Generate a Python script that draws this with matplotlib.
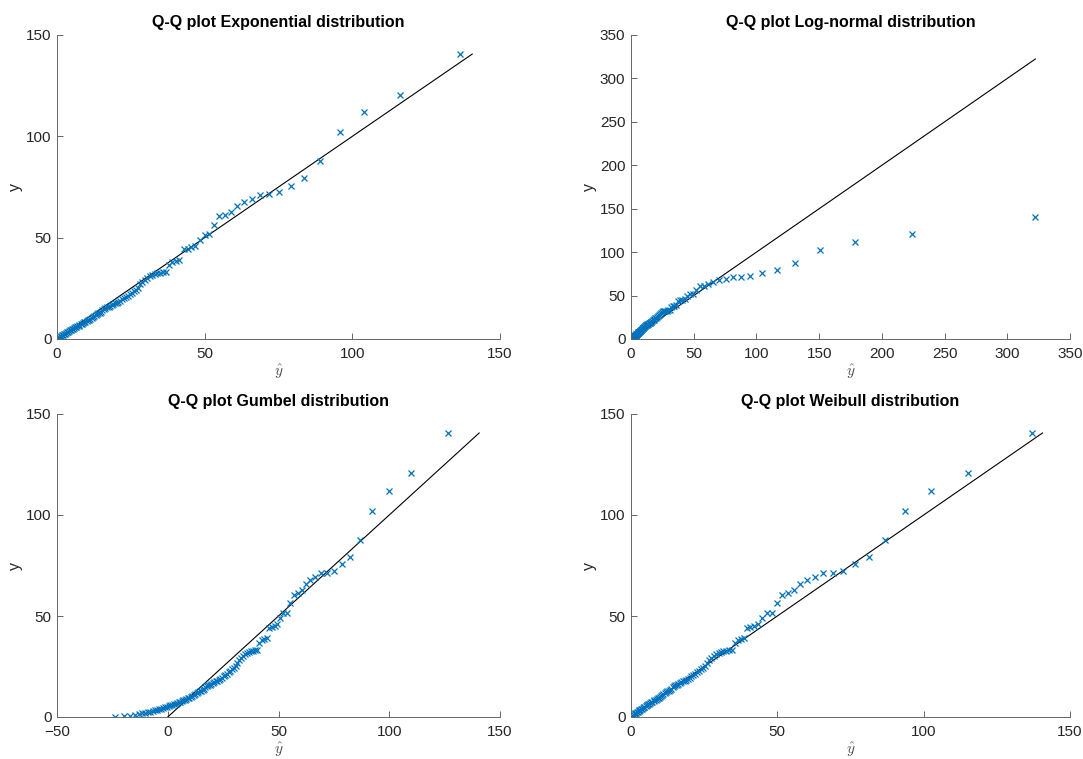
import matplotlib
matplotlib.use("Agg")
import matplotlib.pyplot as plt
from matplotlib.ticker import MultipleLocator

plt.rcParams['font.family'] = ['Liberation Sans', 'DejaVu Sans']
plt.rcParams['mathtext.fontset'] = 'cm'

# observed values, sorted from largest to smallest
y_obs = [140.6, 120.6, 112.0, 102.2, 87.7, 79.4, 75.7, 72.4, 71.3, 71.1,
         69.3, 67.7, 65.6, 62.8, 61.3, 60.5, 56.2, 51.7, 51.3, 49.0,
         46.0, 45.2, 44.4, 44.2, 38.9, 38.5, 38.2, 36.6, 33.3, 33.0,
         32.7, 32.5, 32.3, 31.8, 31.0, 30.2, 29.1, 28.0, 26.9, 25.2,
         24.4, 23.8, 22.9, 22.1, 21.4, 20.7, 20.1, 19.5, 18.9, 18.4,
         18.0, 17.6, 17.2, 16.8, 16.4, 16.0, 15.6, 15.3, 14.9, 14.1,
         13.4, 13.0, 12.7, 12.4, 11.9, 11.3, 10.8, 10.4, 10.0, 9.6,
         9.2, 8.9, 8.6, 8.3, 7.9, 7.6, 7.3, 7.0, 6.6, 6.3,
         6.0, 5.7, 5.4, 5.1, 4.8, 4.5, 4.2, 3.9, 3.6, 3.3,
         3.0, 2.7, 2.4, 2.1, 1.8, 1.4, 1.0, 0.5, 0.3, 0.1]

# fitted quantiles for each distribution, same order as y_obs
yhat_exp = [136.4, 116.0, 104.0, 95.8, 89.2, 83.7, 79.2, 75.2, 71.7, 68.9,
            66.0, 63.4, 61.1, 59.0, 56.8, 55.0, 53.2, 51.3, 50.0, 48.3,
            46.8, 45.4, 44.2, 43.0, 41.3, 40.2, 39.0, 38.0, 36.9, 35.9,
            35.0, 34.0, 33.1, 32.2, 31.4, 30.5, 29.7, 28.9, 28.1, 27.4,
            26.7, 26.0, 25.3, 24.6, 23.9, 23.3, 22.6, 22.0, 21.4, 20.8,
            20.2, 19.7, 19.1, 18.5, 18.0, 17.5, 16.9, 16.4, 15.9, 15.4,
            14.9, 14.4, 14.0, 13.5, 13.1, 12.6, 12.1, 11.7, 11.3, 10.9,
            10.4, 10.0, 9.6, 9.2, 8.8, 8.4, 8.0, 7.6, 7.3, 6.9,
            6.5, 6.2, 5.8, 5.4, 5.1, 4.8, 4.4, 4.1, 3.7, 3.4,
            3.1, 2.8, 2.4, 2.1, 1.8, 1.5, 1.2, 0.9, 0.6, 0.3]

yhat_lognorm = [322.4, 224.4, 178.5, 150.5, 130.9, 116.2, 104.6, 95.2, 87.7, 81.1,
                75.5, 70.3, 65.6, 61.7, 58.2, 55.0, 52.2, 49.5, 47.2, 45.0,
                42.9, 41.0, 39.2, 37.6, 36.0, 34.5, 33.2, 31.9, 30.7, 29.5,
                28.5, 27.4, 26.4, 25.5, 24.6, 23.7, 22.9, 22.1, 21.4, 20.7,
                19.9, 19.3, 18.6, 18.0, 17.4, 16.9, 16.3, 15.8, 15.3, 14.8,
                14.3, 13.8, 13.4, 12.9, 12.5, 12.1, 11.7, 11.3, 11.0, 10.6,
                10.2, 9.9, 9.6, 9.2, 8.9, 8.6, 8.3, 8.0, 7.7, 7.4,
                7.2, 6.9, 6.6, 6.4, 6.1, 5.9, 5.6, 5.4, 5.2, 4.9,
                4.7, 4.5, 4.3, 4.1, 3.8, 3.6, 3.4, 3.2, 3.0, 2.8,
                2.6, 2.4, 2.2, 2.0, 1.8, 1.6, 1.4, 1.2, 0.9, 0.7]

yhat_gumbel = [126.6, 109.6, 99.7, 92.3, 86.8, 82.1, 78.5, 75.0, 71.7, 69.2,
               66.7, 64.3, 62.4, 60.4, 58.6, 56.9, 55.2, 53.7, 52.2, 50.8,
               49.5, 48.2, 47.0, 45.7, 44.6, 43.5, 42.4, 41.4, 40.3, 39.4,
               38.4, 37.4, 36.5, 35.6, 34.7, 33.9, 33.0, 32.2, 31.4, 30.6,
               29.8, 29.0, 28.2, 27.5, 26.7, 26.0, 25.3, 24.6, 23.8, 23.1,
               22.4, 21.7, 21.1, 20.4, 19.7, 19.0, 18.3, 17.7, 17.0, 16.3,
               15.7, 15.0, 14.4, 13.7, 13.0, 12.4, 11.7, 11.1, 10.4, 9.7,
               9.0, 8.4, 7.7, 7.0, 6.3, 5.6, 4.9, 4.2, 3.5, 2.8,
               2.0, 1.2, 0.4, -0.4, -1.2, -2.0, -2.9, -3.8, -4.7, -5.7,
               -6.7, -7.8, -9.0, -10.3, -11.6, -13.2, -14.9, -17.0, -19.7, -23.7]

yhat_weibull = [137.0, 115.3, 102.6, 93.7, 86.7, 81.2, 76.4, 72.5, 68.9, 65.7,
                62.8, 60.2, 57.9, 55.6, 53.6, 51.7, 49.9, 48.1, 46.5, 44.9,
                43.5, 42.1, 40.8, 39.5, 38.7, 37.6, 36.5, 35.4, 34.4, 33.4,
                32.5, 31.6, 30.7, 29.9, 29.0, 28.2, 27.4, 26.6, 25.9, 25.2,
                24.5, 23.8, 23.1, 22.5, 21.8, 21.2, 20.6, 20.0, 19.4, 18.9,
                18.3, 17.8, 17.2, 16.7, 16.2, 15.7, 15.2, 14.7, 14.2, 13.8,
                13.3, 12.9, 12.4, 12.0, 11.6, 11.1, 10.7, 10.3, 9.9, 9.6,
                9.1, 8.8, 8.4, 8.0, 7.7, 7.3, 7.0, 6.6, 6.3, 5.9,
                5.6, 5.3, 5.0, 4.6, 4.3, 4.0, 3.7, 3.4, 3.1, 2.8,
                2.6, 2.3, 2.0, 1.7, 1.5, 1.2, 0.9, 0.7, 0.5, 0.2]

titles = ['Q-Q plot Exponential distribution', 'Q-Q plot Log-normal distribution',
          'Q-Q plot Gumbel distribution', 'Q-Q plot Weibull distribution']
fits = [yhat_exp, yhat_lognorm, yhat_gumbel, yhat_weibull]
xlims = [(0, 150), (0, 350), (-50, 150), (0, 150)]
ylims = [(0, 150), (0, 350), (0, 150), (0, 150)]

BLUE = (0, 0.447, 0.741)
AX_COL = (0.15, 0.15, 0.15)

W, H = 1083, 759
# axes boxes in pixels: left, top, right, bottom
boxes = [(57, 35, 500, 339), (631, 35, 1070, 339),
         (57, 414, 500, 717), (631, 414, 1070, 717)]


def qqPanel(fig, box, yhat, y, title, xlim, ylim):
    l, t, r, b = box
    ax = fig.add_axes([l / W, 1 - b / H, (r - l) / W, (b - t) / H])
    top = max(max(y), max(yhat))
    ax.plot([0, top], [0, top], color='k', linewidth=0.8)
    ax.plot(yhat, y, linestyle='none', marker='x', color=BLUE,
            markersize=4.2, markeredgewidth=0.9)
    ax.set_xlim(*xlim)
    ax.set_ylim(*ylim)
    ax.xaxis.set_major_locator(MultipleLocator(50))
    ax.yaxis.set_major_locator(MultipleLocator(50))
    ax.set_title(title, fontsize=11.5, fontweight='bold', pad=6)
    ax.set_xlabel(r'$\hat{y}$', fontsize=11, color=(0.3, 0.3, 0.3), labelpad=1)
    ax.set_ylabel('y', fontsize=11.5, color=AX_COL)
    # place the y label at a fixed pixel offset left of the axis
    ax.yaxis.set_label_coords(-34 / (r - l), 0.5)
    for side in ['top', 'right']:
        ax.spines[side].set_visible(False)
    for side in ['left', 'bottom']:
        ax.spines[side].set_color((0.4, 0.4, 0.4))
        ax.spines[side].set_linewidth(0.7)
    ax.tick_params(direction='in', length=4, width=0.7, colors=(0.4, 0.4, 0.4),
                   labelcolor=AX_COL, labelsize=11)
    ax.tick_params(axis='x', pad=6)
    ax.tick_params(axis='y', pad=4)
    return ax


fig = plt.figure(figsize=(W / 100, H / 100), dpi=100)
for box, yhat, title, xl, yl in zip(boxes, fits, titles, xlims, ylims):
    qqPanel(fig, box, yhat, y_obs, title, xl, yl)

fig.savefig('out.png', dpi=100)
